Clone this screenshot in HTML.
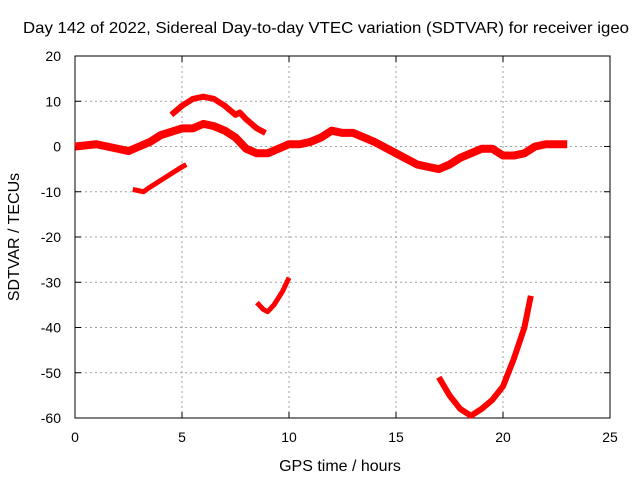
<!DOCTYPE html>
<html><head><meta charset="utf-8"><style>
body{margin:0;background:#fff}
svg text{font-family:"Liberation Sans",sans-serif;font-size:14px;fill:#000}
svg text.big{font-size:16px}
</style></head><body>
<svg id="c" width="640" height="480">
<rect width="640" height="480" fill="#fff"/>
<g id="grid"></g><g id="axes"></g><g id="series"></g>
<text class="big" x="326" y="33" text-anchor="middle" textLength="606" lengthAdjust="spacingAndGlyphs">Day 142 of 2022, Sidereal Day-to-day VTEC variation (SDTVAR) for receiver igeo</text>
<text class="big" x="340" y="471" text-anchor="middle">GPS time / hours</text>
<text class="big" transform="translate(19,237) rotate(-90)" text-anchor="middle">SDTVAR / TECUs</text>
</svg>
<script>
const xTicks=[0,5,10,15,20,25];
const yTicks=[20,10,0,-10,-20,-30,-40,-50,-60];
const segMain=[[0,0],[1,0.5],[2,-0.5],[2.5,-1],[3,0],[3.5,1],[4,2.5],[5,4],[5.5,4],[6,5],[6.5,4.5],[7,3.5],[7.5,2],[8,-0.5],[8.5,-1.5],[9,-1.5],[9.5,-0.5],[10,0.5],[10.5,0.5],[11,1],[11.5,2],[12,3.5],[12.5,3],[13,3],[13.5,2],[14,1],[15,-1.5],[16,-4],[16.5,-4.5],[17,-5],[17.5,-4],[18,-2.5],[19,-0.5],[19.5,-0.5],[20,-2],[20.5,-2],[21,-1.5],[21.5,0],[22,0.5],[23,0.5]];
const segUpper=[[4.5,7],[5,9],[5.5,10.5],[6,11],[6.5,10.5],[7,9],[7.5,7],[7.7,7.5],[8,6],[8.5,4],[8.9,3]];
const segLower=[[2.7,-9.5],[3.2,-10],[3.5,-9],[4,-7.5],[4.5,-6],[5,-4.5],[5.2,-4]];
const segMid=[[8.5,-34.5],[8.8,-36],[9,-36.5],[9.3,-35],[9.7,-32],[10,-29]];
const segLarge=[[17,-51],[17.5,-55],[18,-58],[18.5,-59.5],[19,-58],[19.5,-56],[20,-53],[20.5,-47],[21,-40],[21.3,-33]];
const X0=75,X1=610,Y0=418,Y1=56;
const sx=v=>X0+(v-0)/25*(X1-X0);
const sy=v=>Y0-(v+60)/80*(Y0-Y1);
const NS="http://www.w3.org/2000/svg";
function mk(t,a,p){const e=document.createElementNS(NS,t);for(const k in a)e.setAttribute(k,a[k]);p.appendChild(e);return e;}
const g=document.getElementById('grid'),ax=document.getElementById('axes'),se=document.getElementById('series');
xTicks.forEach(t=>{
 if(t>0&&t<25){const l=mk('line',{x1:sx(t),x2:sx(t),y1:Y1,y2:Y0,stroke:'#a0a0a0','stroke-dasharray':'2,3'},g);
 
 }
 const tx=mk('text',{x:sx(t),y:Y0+24,'text-anchor':'middle'},ax);tx.textContent=t;
 
 
 mk('line',{x1:sx(t),x2:sx(t),y1:Y0,y2:Y0-6,stroke:'#000'},ax);
 mk('line',{x1:sx(t),x2:sx(t),y1:Y1,y2:Y1+6,stroke:'#000'},ax);
});
yTicks.forEach(t=>{
 if(t>-60&&t<20){const l=mk('line',{x1:X0,x2:X1,y1:sy(t),y2:sy(t),stroke:'#a0a0a0','stroke-dasharray':'2,3'},g);
 
 }
 const tx=mk('text',{x:X0-14,y:sy(t)+5,'text-anchor':'end'},ax);tx.textContent=t;
 
 
 mk('line',{x1:X0,x2:X0+6,y1:sy(t),y2:sy(t),stroke:'#000'},ax);
 mk('line',{x1:X1,x2:X1-6,y1:sy(t),y2:sy(t),stroke:'#000'},ax);
});
const fr=mk('rect',{x:X0,y:Y1,width:X1-X0,height:Y0-Y1,fill:'none',stroke:'#000'},ax);


[[segMain,'series-main',8],[segUpper,'series-upper-arc',6],[segLower,'series-lower-arc',5],[segMid,'series-mid-dip',5],[segLarge,'series-large-dip',6]].forEach(([s,n,w])=>{
 const p=mk('polyline',{points:s.map(d=>sx(d[0])+','+sy(d[1])).join(' '),fill:'none',stroke:'#f00','stroke-width':w,'stroke-linejoin':'round','stroke-linecap':'butt'},se);
 
 
});
</script>
</body></html>
